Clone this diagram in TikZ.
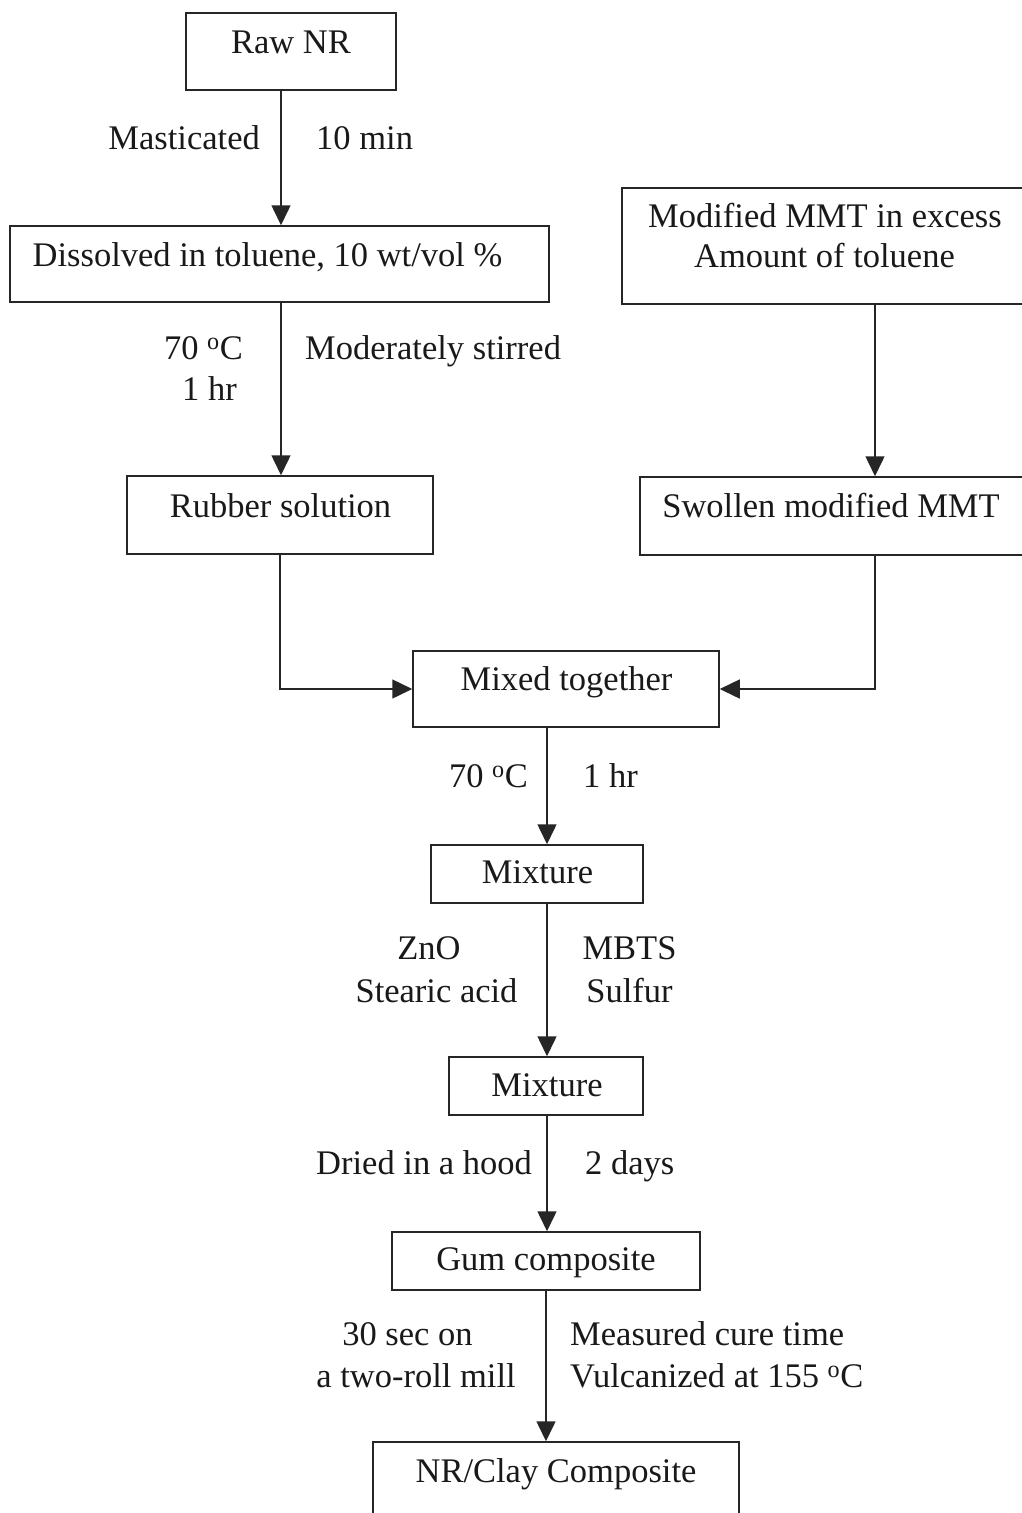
\documentclass[tikz,border=0pt]{standalone}
\usepackage{fontspec}
\setmainfont{Liberation Serif}
\usetikzlibrary{arrows.meta}
\begin{document}
\begin{tikzpicture}[x=1pt,y=-1pt,
  every node/.style={font=\fontsize{34.5pt}{41pt}\selectfont, text=black!90},
  bx/.style={draw=black!85, line width=1.5pt, inner sep=0pt, rectangle},
  lab/.style={inner sep=0pt},
  arr/.style={draw=black!85, line width=1.5pt, -{Triangle[length=20pt,width=19pt]}}]
\path[use as bounding box, fill=white] (0,0) rectangle (1022,1513);
\clip (0,0) rectangle (1022,1513);
% boxes
\node[bx, minimum width=210pt, minimum height=77pt] (raw) at (291,51.5) {};
\node[bx, minimum width=539pt, minimum height=76pt] (diss) at (279.5,264) {};
\node[bx, minimum width=438pt, minimum height=116pt] (mmt) at (841,246) {};
\node[bx, minimum width=306pt, minimum height=78pt] (rub) at (280,515) {};
\node[bx, minimum width=420pt, minimum height=78pt] (swl) at (850,516) {};
\node[bx, minimum width=306pt, minimum height=76pt] (mix) at (566,689) {};
\node[bx, minimum width=212pt, minimum height=58pt] (m1) at (537,874) {};
\node[bx, minimum width=194pt, minimum height=58pt] (m2) at (546,1086) {};
\node[bx, minimum width=308pt, minimum height=58pt] (gum) at (546,1261) {};
\node[bx, minimum width=366pt, minimum height=118pt] (nrc) at (556,1501) {};
% box texts
\node[lab, anchor=base] (traw) at (291,53) {Raw NR};
\node[lab, anchor=base] (tdiss) at (267.5,266) {Dissolved in toluene, 10 wt/vol \%};
\node[lab, anchor=base] (tmmt1) at (825,227) {Modified MMT in excess};
\node[lab, anchor=base] (tmmt2) at (824.5,267) {Amount of toluene};
\node[lab, anchor=base] (trub) at (280.5,517) {Rubber solution};
\node[lab, anchor=base] (tswl) at (831,517) {Swollen modified MMT};
\node[lab, anchor=base] (tmix) at (566.5,690) {Mixed together};
\node[lab, anchor=base] (tm1) at (537.5,883) {Mixture};
\node[lab, anchor=base] (tm2) at (547,1096) {Mixture};
\node[lab, anchor=base] (tgum) at (546,1270) {Gum composite};
\node[lab, anchor=base] (tnrc) at (556,1482) {NR/Clay Composite};
% connector labels
\node[lab, anchor=base east] (lmast) at (260,149) {Masticated};
\node[lab, anchor=base west] (l10min) at (316,149) {10 min};
\node[lab, anchor=base east] (l70a) at (243,359) {70 \textsuperscript{o}C};
\node[lab, anchor=base east] (l1hra) at (237,400) {1 hr};
\node[lab, anchor=base west] (lstir) at (305,359) {Moderately stirred};
\node[lab, anchor=base east] (l70b) at (528,787) {70 \textsuperscript{o}C};
\node[lab, anchor=base west] (l1hrb) at (583,787) {1 hr};
\node[lab, anchor=base] (lzno) at (429,959) {ZnO};
\node[lab, anchor=base] (lstear) at (436.5,1002) {Stearic acid};
\node[lab, anchor=base] (lmbts) at (629.5,959) {MBTS};
\node[lab, anchor=base] (lsulf) at (629.5,1002) {Sulfur};
\node[lab, anchor=base east] (ldried) at (532,1174) {Dried in a hood};
\node[lab, anchor=base west] (l2d) at (585,1174) {2 days};
\node[lab, anchor=base] (l30) at (407.5,1345) {30 sec on};
\node[lab, anchor=base] (lroll) at (416,1387) {a two-roll mill};
\node[lab, anchor=base west] (lmeas) at (570,1345) {Measured cure time};
\node[lab, anchor=base west] (lvulc) at (570,1387) {Vulcanized at 155 \textsuperscript{o}C};
% connectors
\coordinate (c1) at (281,0);
\coordinate (c2) at (875,0);
\coordinate (c3) at (547,0);
\coordinate (c4) at (546,0);
\draw[arr] (raw.south -| c1) -- (diss.north -| c1);
\draw[arr] (diss.south -| c1) -- (rub.north -| c1);
\draw[arr] (mmt.south -| c2) -- (swl.north -| c2);
\draw[arr] (rub.south) |- (mix.west);
\draw[arr] (swl.south -| c2) |- (mix.east);
\draw[arr] (mix.south -| c3) -- (m1.north -| c3);
\draw[arr] (m1.south -| c3) -- (m2.north -| c3);
\draw[arr] (m2.south -| c3) -- (gum.north -| c3);
\draw[arr] (gum.south -| c4) -- (nrc.north -| c4);
\end{tikzpicture}
\end{document}
